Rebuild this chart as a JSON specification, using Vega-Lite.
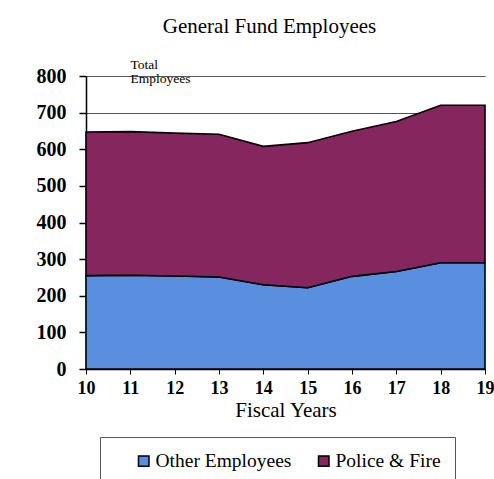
{
  "$schema": "https://vega.github.io/schema/vega-lite/v6.json",
  "autosize": "none",
  "padding": {"left": 86, "top": 76, "right": 9, "bottom": 110},
  "width": 399,
  "height": 293,
  "background": "white",
  "title": {
    "text": "General Fund Employees",
    "font": "Liberation Serif",
    "fontSize": 21,
    "fontWeight": "normal",
    "color": "black",
    "anchor": "middle",
    "frame": "group",
    "dx": -16,
    "offset": 20
  },
  "data": {
    "values": [
      {"year": 10, "group": "Other Employees", "order": 1, "count": 255},
      {"year": 11, "group": "Other Employees", "order": 1, "count": 256},
      {"year": 12, "group": "Other Employees", "order": 1, "count": 254},
      {"year": 13, "group": "Other Employees", "order": 1, "count": 251},
      {"year": 14, "group": "Other Employees", "order": 1, "count": 230},
      {"year": 15, "group": "Other Employees", "order": 1, "count": 222},
      {"year": 16, "group": "Other Employees", "order": 1, "count": 253},
      {"year": 17, "group": "Other Employees", "order": 1, "count": 266},
      {"year": 18, "group": "Other Employees", "order": 1, "count": 290},
      {"year": 19, "group": "Other Employees", "order": 1, "count": 290},
      {"year": 10, "group": "Police & Fire", "order": 2, "count": 392},
      {"year": 11, "group": "Police & Fire", "order": 2, "count": 392},
      {"year": 12, "group": "Police & Fire", "order": 2, "count": 390},
      {"year": 13, "group": "Police & Fire", "order": 2, "count": 390},
      {"year": 14, "group": "Police & Fire", "order": 2, "count": 378},
      {"year": 15, "group": "Police & Fire", "order": 2, "count": 396},
      {"year": 16, "group": "Police & Fire", "order": 2, "count": 396},
      {"year": 17, "group": "Police & Fire", "order": 2, "count": 410},
      {"year": 18, "group": "Police & Fire", "order": 2, "count": 430},
      {"year": 19, "group": "Police & Fire", "order": 2, "count": 430}
    ]
  },
  "mark": {"type": "area", "stroke": "black", "strokeWidth": 1.6, "opacity": 1},
  "encoding": {
    "x": {
      "field": "year",
      "type": "quantitative",
      "scale": {"domain": [10, 19], "nice": false, "zero": false},
      "axis": {
        "title": "Fiscal Years",
        "values": [10, 11, 12, 13, 14, 15, 16, 17, 18, 19],
        "format": "d",
        "grid": false,
        "labelFont": "Liberation Serif",
        "labelFontSize": 18,
        "labelFontWeight": "bold",
        "labelColor": "black",
        "labelPadding": 5,
        "labelFlush": false,
        "tickColor": "black",
        "tickSize": 5,
        "domainColor": "black",
        "domainWidth": 1.5,
        "titleFont": "Liberation Serif",
        "titleFontSize": 21,
        "titleFontWeight": "normal",
        "titleColor": "black",
        "titlePadding": 2
      }
    },
    "y": {
      "field": "count",
      "type": "quantitative",
      "stack": "zero",
      "scale": {"domain": [0, 800], "nice": false},
      "axis": {
        "title": ["Total", "Employees"],
        "values": [0, 100, 200, 300, 400, 500, 600, 700, 800],
        "titleAngle": 0,
        "titleAlign": "left",
        "titleBaseline": "alphabetic",
        "titleX": 44,
        "titleY": -8,
        "titleFont": "Liberation Serif",
        "titleFontSize": 13.5,
        "titleFontWeight": "normal",
        "titleColor": "black",
        "titleLineHeight": 14.5,
        "labelFont": "Liberation Serif",
        "labelFontSize": 20,
        "labelFontWeight": "bold",
        "labelColor": "black",
        "labelPadding": 13,
        "tickColor": "black",
        "tickSize": 7,
        "tickWidth": 1.5,
        "domainColor": "black",
        "domainWidth": 1.5,
        "grid": true,
        "gridColor": "#555",
        "gridWidth": 1
      }
    },
    "color": {
      "field": "group",
      "type": "nominal",
      "scale": {"domain": ["Other Employees", "Police & Fire"], "range": ["#5a8fe0", "#85265e"]},
      "legend": {
        "title": null,
        "orient": "none",
        "direction": "horizontal",
        "legendX": 14,
        "legendY": 361,
        "padding": 14,
        "strokeColor": "#555",
        "labelFont": "Liberation Serif",
        "labelFontSize": 19.5,
        "labelColor": "black",
        "labelOffset": 2,
        "columnPadding": 2,
        "symbolOffset": 20,
        "symbolType": "square",
        "symbolSize": 110,
        "symbolStrokeColor": "black",
        "symbolStrokeWidth": 1.5,
        "symbolOpacity": 1
      }
    },
    "order": {"field": "order", "type": "quantitative"}
  },
  "config": {
    "view": {"stroke": null}
  }
}
